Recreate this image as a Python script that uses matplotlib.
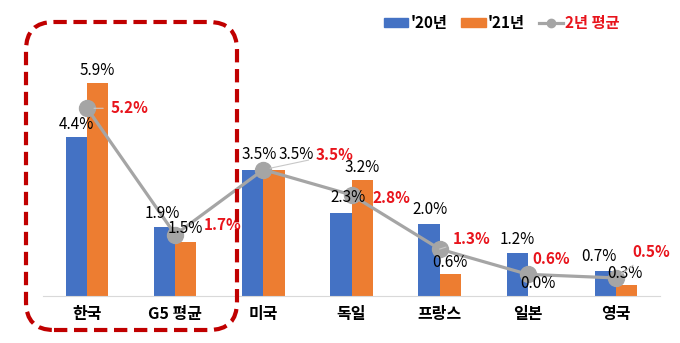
import matplotlib
matplotlib.use("Agg")
import matplotlib.pyplot as plt
import numpy as np
from matplotlib.patches import FancyBboxPatch, Patch
from matplotlib.lines import Line2D

countries = ["한국", "G5 평균", "미국", "독일", "프랑스", "일본", "영국"]
y2020 = [4.4, 1.9, 3.5, 2.3, 2.0, 1.2, 0.7]
y2021 = [5.9, 1.5, 3.5, 3.2, 0.6, 0.0, 0.3]
avg2y = [5.2, 1.7, 3.5, 2.8, 1.3, 0.6, 0.5]
series_names = ["'20년", "'21년", "2년 평균"]

BLUE = "#4472C4"
ORANGE = "#ED7D31"
GRAY = "#A5A5A5"
RED = "#E8141C"
BOX_RED = "#C00000"

KR = ["Noto Sans CJK KR", "DejaVu Sans"]
NUM = ["Liberation Sans Narrow", "Noto Sans CJK KR", "DejaVu Sans"]

# label offsets in pixels (dx, dy)
off20 = [(0, 13), (-2, 14), (6, 15), (7, 15), (1, 14), (0, 13), (-6, 14)]
off21 = [(0, 13), (0, 13), (22, 15), (0, 13), (0, 12), (0, 13), (-2, 12)]
offav = [(42, 0), (47, 10), (71, 15), (40, -3), (32, 10), (23, 15), (35, 26)]
leader = [True, False, True, False, True, False, True]

fig = plt.figure(figsize=(6.8, 3.43), dpi=100)
ax = fig.add_axes([43 / 680, 1 - 296 / 343, 617 / 680, 256 / 343])

x = np.arange(len(countries))
w = 0.24
ax.bar(x - w / 2, y2020, w, color=BLUE, zorder=2)
ax.bar(x + w / 2, y2021, w, color=ORANGE, zorder=2)
ax.plot(x, avg2y, color=GRAY, lw=2.3, marker="o", markersize=11.5, zorder=3)

for i in range(len(x)):
    dx, dy = off20[i]
    ax.annotate(f"{y2020[i]:.1f}%", (x[i] - w / 2, y2020[i]), xytext=(dx, dy),
                textcoords="offset pixels", ha="center", va="center",
                fontsize=11, family=NUM, color="black", zorder=5)
    dx, dy = off21[i]
    ax.annotate(f"{y2021[i]:.1f}%", (x[i] + w / 2, y2021[i]), xytext=(dx, dy),
                textcoords="offset pixels", ha="center", va="center",
                fontsize=11, family=NUM, color="black", zorder=5)
    dx, dy = offav[i]
    ap = dict(arrowstyle="-", color="#C8C8C8", lw=0.8, shrinkA=3, shrinkB=5) if leader[i] else None
    ax.annotate(f"{avg2y[i]:.1f}%", (x[i], avg2y[i]), xytext=(dx, dy),
                textcoords="offset pixels", ha="center", va="center",
                fontsize=11, family=NUM, color=RED, fontweight="bold",
                arrowprops=ap, zorder=5)

ax.set_xlim(-0.5, len(x) - 0.5)
ax.set_ylim(0, 256 / 36.1)
ax.set_xticks(x)
ax.set_xticklabels(countries, family=KR, fontweight="bold", fontsize=11.5)
ax.tick_params(axis="x", length=0, pad=7)
ax.set_yticks([])
for s in ["top", "right", "left"]:
    ax.spines[s].set_visible(False)
ax.spines["bottom"].set_color("#D9D9D9")

handles = [Patch(color=BLUE), Patch(color=ORANGE),
           Line2D([], [], color=GRAY, lw=2.3, marker="o", markersize=6)]
leg = fig.legend(handles, series_names, loc="center left", bbox_to_anchor=(370 / 680, 1 - 23 / 343),
                 ncol=3, frameon=False, handlelength=1.6, handleheight=0.45, handletextpad=0.15,
                 columnspacing=0.9, prop=dict(family=KR, weight="bold", size=11))
leg.get_texts()[2].set_color(RED)

box = FancyBboxPatch((0.26, 0.13), 2.11, 3.08, boxstyle="round,pad=0,rounding_size=0.28",
                     transform=fig.dpi_scale_trans, fill=False, edgecolor=BOX_RED, lw=3,
                     linestyle=(0, (3.2, 1.6)), zorder=10)
fig.patches.append(box)

fig.savefig("out.png", dpi=100)
